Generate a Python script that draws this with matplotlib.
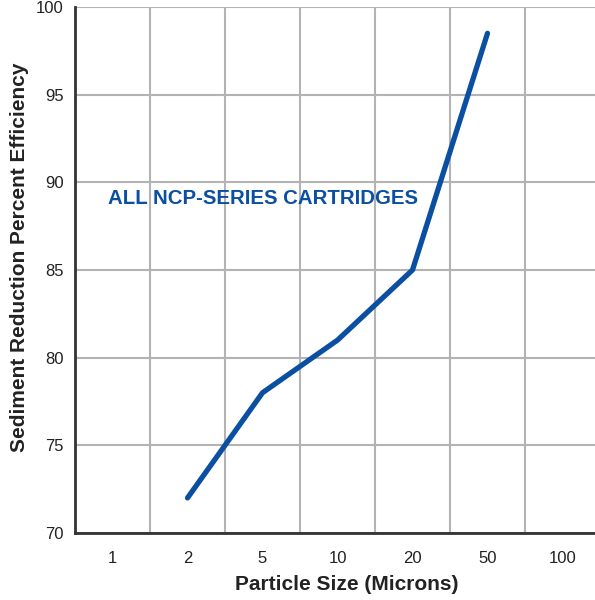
import numpy as np
import matplotlib.pyplot as plt
from matplotlib.ticker import FixedLocator

plt.rcParams['font.family'] = ['Liberation Sans', 'DejaVu Sans']

# Данные
sizes = ['1', '2', '5', '10', '20', '50', '100']
line_sizes = ['2', '5', '10', '20', '50']
efficiency = [72, 78, 81, 85, 98.5]
y_ticks = [70, 75, 80, 85, 90, 95, 100]

blue = '#0b4fa2'
grid_c = '#b3b3b3'

fig = plt.figure(figsize=(5.95, 6), dpi=100)
ax = fig.add_axes([75 / 595, 67 / 600, 520 / 595, 526 / 600])

xpos = np.arange(len(sizes))
line_x = [sizes.index(s) for s in line_sizes]

ax.plot(line_x, efficiency, color=blue, lw=3.8, solid_capstyle='round',
        solid_joinstyle='round', zorder=3)

ax.set_xlim(-0.5, -0.5 + 520 / 75)
ax.set_ylim(70, 100)

ax.set_xticks(xpos)
ax.set_xticklabels(sizes)
ax.xaxis.set_minor_locator(FixedLocator(xpos[1:] - 0.5))
ax.set_yticks(y_ticks)

ax.grid(True, which='minor', axis='x', color=grid_c, lw=1.5)
ax.grid(True, which='major', axis='y', color=grid_c, lw=1.5)
ax.set_axisbelow(True)

ax.tick_params(which='both', length=0)
ax.tick_params(axis='x', pad=13, labelsize=12, labelcolor='#222222')
ax.tick_params(axis='y', pad=8, labelsize=12, labelcolor='#222222')

for s in ['top', 'right']:
    ax.spines[s].set_visible(False)
for s in ['left', 'bottom']:
    ax.spines[s].set_color('#333333')
    ax.spines[s].set_linewidth(2)

ax.set_xlabel('Particle Size (Microns)', fontsize=15, fontweight='bold',
              color='#222222')
ax.set_ylabel('Sediment Reduction Percent Efficiency', fontsize=15,
              fontweight='bold', color='#222222')
ax.xaxis.set_label_coords(0.523, -0.08)
ax.yaxis.set_label_coords(-0.088, 0.525)

ax.text(-0.06, 89.1, 'ALL NCP-SERIES CARTRIDGES', color=blue, fontsize=14.7,
        fontweight='bold', va='center', ha='left')

fig.savefig('out.png', dpi=100)
